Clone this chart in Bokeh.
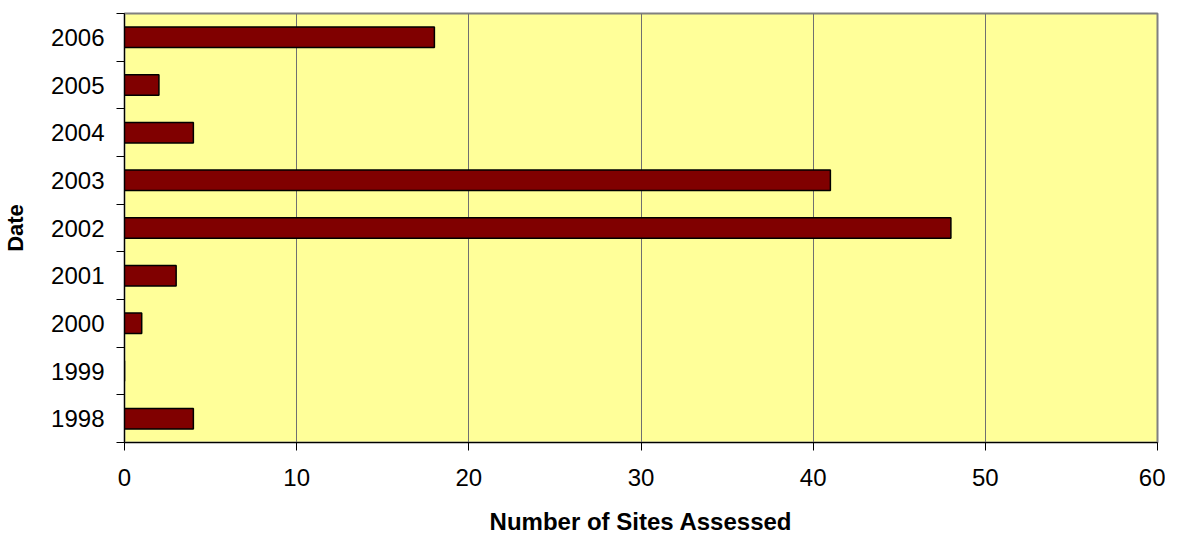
from bokeh.plotting import figure
from bokeh.models import Range1d, FixedTicker, ColumnDataSource
from bokeh.embed import file_html
from bokeh.resources import INLINE

years = ["1998", "1999", "2000", "2001", "2002", "2003", "2004", "2005", "2006"]
sites = [4, 0, 1, 3, 48, 41, 4, 2, 18]
x_ticks = [0, 10, 20, 30, 40, 50, 60]

pos = [i + 0.5 for i in range(len(years))]
src = ColumnDataSource(dict(y=pos, right=sites, year=years))

p = figure(width=1165, height=537, output_backend="svg", toolbar_location=None,
           x_range=Range1d(0, 60), y_range=Range1d(0, len(years)),
           min_border_left=124, min_border_top=13, min_border_right=8, min_border_bottom=0)

p.background_fill_color = "#FFFF99"
p.border_fill_color = "white"
p.outline_line_color = "#808080"
p.outline_line_width = 2

p.hbar(y="y", left=0, right="right", height=0.43, source=src,
       fill_color="#800000", line_color="black", line_width=1.5)

font = "Liberation Sans"

# x axis
p.xaxis.ticker = FixedTicker(ticks=x_ticks)
p.xaxis.axis_label = "Number of Sites Assessed"
p.xaxis.axis_label_text_font = font
p.xaxis.axis_label_text_font_size = "24px"
p.xaxis.axis_label_text_font_style = "bold"
p.xaxis.axis_label_text_color = "black"
p.xaxis.axis_label_standoff = 19
p.xaxis.major_label_text_font = font
p.xaxis.major_label_text_font_size = "24px"
p.xaxis.major_label_text_color = "black"
p.xaxis.major_label_standoff = 18
p.xaxis.major_tick_out = 8
p.xaxis.major_tick_in = 0
p.xaxis.minor_tick_line_color = None
p.xaxis.axis_line_color = "black"
p.xaxis.major_tick_line_color = "black"

# y axis
p.yaxis.ticker = FixedTicker(ticks=pos, minor_ticks=list(range(len(years) + 1)))
p.yaxis.major_label_overrides = {v: y for v, y in zip(pos, years)}
p.yaxis.axis_label = "Date"
p.yaxis.axis_label_text_font = font
p.yaxis.axis_label_text_font_size = "22px"
p.yaxis.axis_label_text_font_style = "bold"
p.yaxis.axis_label_text_color = "black"
p.yaxis.axis_label_standoff = 20
p.yaxis.major_label_text_font = font
p.yaxis.major_label_text_font_size = "24px"
p.yaxis.major_label_text_color = "black"
p.yaxis.major_label_standoff = 12
p.yaxis.major_tick_line_color = None
p.yaxis.minor_tick_out = 8
p.yaxis.minor_tick_in = 0
p.yaxis.minor_tick_line_color = "black"
p.yaxis.axis_line_color = "black"

p.xgrid.ticker = FixedTicker(ticks=x_ticks)
p.xgrid.grid_line_color = "#707070"
p.xgrid.grid_line_width = 1
p.ygrid.grid_line_color = None

open("out.html", "w").write(file_html(p, INLINE))
